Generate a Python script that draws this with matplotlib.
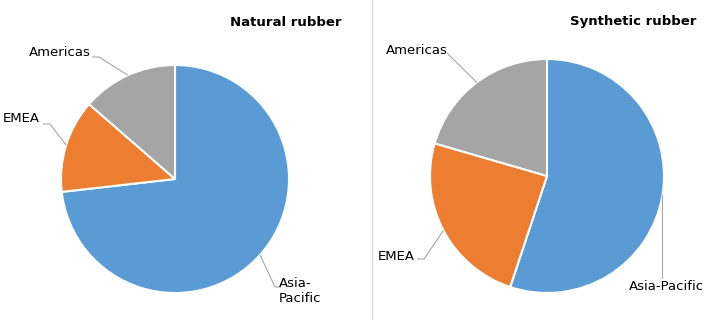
import numpy as np
import matplotlib; matplotlib.use("Agg")
import matplotlib.pyplot as plt

# shares (%), order: Asia-Pacific, EMEA, Americas (clockwise from 12 o'clock)
regions = ["Asia-Pacific", "EMEA", "Americas"]
natural = [73.2, 13.2, 13.6]
synthetic = [55.1, 24.4, 20.5]
titles = ["Natural rubber", "Synthetic rubber"]
COLORS = ["#5B9BD5", "#ED7D31", "#A5A5A5"]
LEAD = "#A6A6A6"
FS = 9.5

W, H = 715, 320
fig = plt.figure(figsize=(W / 100, H / 100), dpi=100)
ax = fig.add_axes([0, 0, 1, 1])
ax.set_xlim(0, W); ax.set_ylim(0, H); ax.set_aspect("equal"); ax.axis("off")

def up(y):  # image row -> data y
    return H - y

def draw(vals, cx, cy, r, title, tx, ty, labels):
    ax.pie(vals, colors=COLORS, startangle=90, counterclock=False, center=(cx, up(cy)),
           radius=r, wedgeprops=dict(edgecolor="white", linewidth=1.5), frame=True)
    ax.text(tx, up(ty), title, ha="right", va="center", fontsize=FS, fontweight="bold")
    cum = np.cumsum([0] + list(vals)) / sum(vals) * 360
    for i, (txt, txy, ha, pts) in enumerate(labels):
        mid = np.radians((cum[i] + cum[i + 1]) / 2)
        ex, ey = cx + r * np.sin(mid), cy - r * np.cos(mid)
        xs = [ex] + [p[0] for p in pts]; ys = [up(ey)] + [up(p[1]) for p in pts]
        ax.plot(xs, ys, color=LEAD, lw=0.8, solid_capstyle="butt")
        ax.text(txy[0], up(txy[1]), txt, ha=ha, va="center", fontsize=FS,
                multialignment="left", linespacing=1.2)

draw(natural, 175, 179, 114, titles[0], 341, 23,
     [("Asia-\nPacific", (279, 291), "left", [(275, 287), (281, 287)]),
      ("EMEA", (3, 119), "left", [(50, 124), (43, 124)]),
      ("Americas", (91, 52), "right", [(99, 57), (92, 57)])])
draw(synthetic, 547, 176, 117, titles[1], 696, 22,
     [("Asia-Pacific", (629, 286), "left", [(662.5, 279)]),
      ("EMEA", (378, 256), "left", [(424, 259), (417, 259)]),
      ("Americas", (386, 51), "left", [(447, 53)])])

ax.set_xlim(0, W); ax.set_ylim(0, H); ax.axis("off")
ax.plot([372, 372], [0, H], color="#D9D9D9", lw=1)
fig.savefig("out.png", dpi=100)
